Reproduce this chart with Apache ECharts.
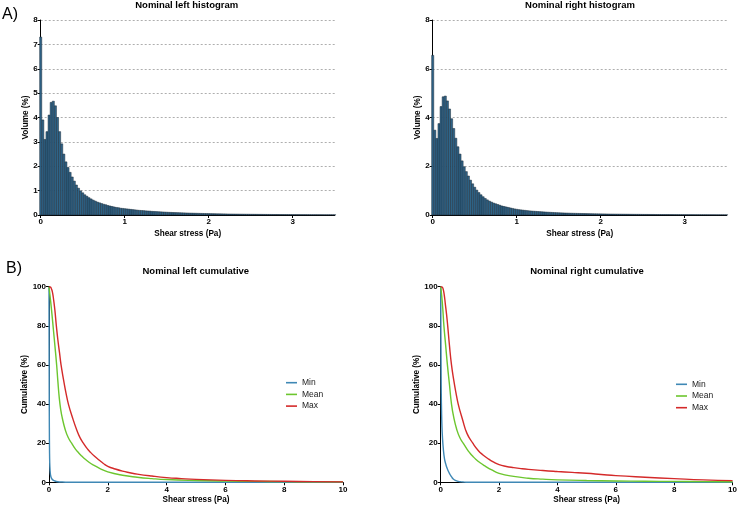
<!DOCTYPE html>
<html><head><meta charset="utf-8">
<script src="https://cdn.jsdelivr.net/npm/echarts@6/dist/echarts.min.js"></script>
<style>html,body{margin:0;padding:0;background:#fff}#c{width:740px;height:507px}</style>
</head><body><div id="c"></div>
<script>
// ---------- DATA ----------
const binWidth = 0.025; // histogram bin width (Pa), bins centred at 0, 0.025, 0.05 ...
const leftHist = [
  7.30, 3.90, 3.10, 3.42, 4.10, 4.62, 4.67, 4.48, 4.00, 3.42,
  2.92, 2.50, 2.18, 1.95, 1.75, 1.56, 1.39, 1.23, 1.10, 0.99,
  0.91, 0.83, 0.77, 0.71, 0.66, 0.61, 0.57, 0.53, 0.50, 0.47,
  0.44, 0.42, 0.39, 0.37, 0.35, 0.33, 0.31, 0.30, 0.28, 0.27, 0.26,
  0.25, 0.24, 0.23, 0.22, 0.21, 0.20, 0.19, 0.185, 0.18, 0.17,
  0.165, 0.16, 0.15, 0.145, 0.14, 0.135, 0.13, 0.125, 0.12, 0.115,
  0.11, 0.107, 0.103, 0.10, 0.097, 0.094, 0.09, 0.087, 0.084, 0.081,
  0.078, 0.076, 0.073, 0.071, 0.068, 0.066, 0.064, 0.062, 0.06, 0.058,
  0.056, 0.054, 0.052, 0.05, 0.049, 0.047, 0.045, 0.044, 0.042, 0.041,
  0.04, 0.038, 0.037, 0.036, 0.035, 0.034, 0.033, 0.032, 0.031, 0.03,
  0.029, 0.028, 0.027, 0.026, 0.026, 0.025, 0.024, 0.023, 0.023, 0.022,
  0.021, 0.021, 0.02, 0.019, 0.019, 0.018, 0.018, 0.017, 0.017, 0.016,
  0.016, 0.015, 0.015, 0.014, 0.014, 0.014, 0.013, 0.013, 0.012, 0.012,
  0.012, 0.011, 0.011, 0.011, 0.01, 0.01, 0.01, 0.01, 0.009, 0.009
];
const rightHist = [
  6.55, 3.48, 3.14, 3.75, 4.45, 4.85, 4.88, 4.68, 4.35, 3.95,
  3.55, 3.15, 2.80, 2.50, 2.22, 1.98, 1.78, 1.60, 1.43, 1.28,
  1.14, 1.02, 0.92, 0.83, 0.75, 0.68, 0.62, 0.57, 0.53, 0.49,
  0.46, 0.43, 0.40, 0.37, 0.35, 0.33, 0.31, 0.29, 0.27, 0.25, 0.235,
  0.22, 0.21, 0.20, 0.19, 0.18, 0.17, 0.163, 0.156, 0.15, 0.144,
  0.138, 0.132, 0.126, 0.12, 0.115, 0.11, 0.105, 0.10, 0.096, 0.092,
  0.088, 0.085, 0.082, 0.079, 0.076, 0.073, 0.07, 0.068, 0.066, 0.064,
  0.062, 0.06, 0.058, 0.056, 0.054, 0.052, 0.05, 0.049, 0.047, 0.046,
  0.044, 0.043, 0.042, 0.04, 0.039, 0.038, 0.037, 0.036, 0.035, 0.034,
  0.033, 0.032, 0.031, 0.03, 0.029, 0.028, 0.027, 0.027, 0.026, 0.025,
  0.024, 0.024, 0.023, 0.022, 0.022, 0.021, 0.02, 0.02, 0.019, 0.019,
  0.018, 0.018, 0.017, 0.017, 0.016, 0.016, 0.015, 0.015, 0.015, 0.014,
  0.014, 0.013, 0.013, 0.013, 0.012, 0.012, 0.012, 0.011, 0.011, 0.011,
  0.01, 0.01, 0.01, 0.01, 0.009, 0.009, 0.009, 0.009, 0.008, 0.008
];
const histXTicks = [0, 1, 2, 3];

// Cumulative curves: x = shear stress (Pa), y = cumulative (%)
const leftMinX  = [0, 0.004, 0.008, 0.012, 0.018, 0.025, 0.035, 0.05, 0.07, 0.1, 0.14, 0.2, 0.3, 0.45, 0.6, 0.8, 1, 2, 4, 6, 8, 10];
const leftMinY  = [100, 70, 45, 28, 16, 10, 6.5, 4, 2.6, 1.7, 1.1, 0.65, 0.3, 0.12, 0.05, 0.02, 0, 0, 0, 0, 0, 0];
const leftMeanX = [0, 0.03, 0.06, 0.1, 0.15, 0.2, 0.26, 0.3, 0.35, 0.4, 0.45, 0.55, 0.65, 0.77, 0.9, 1, 1.1, 1.2, 1.35, 1.5, 1.75, 2, 2.5, 3, 3.5, 4, 5, 6, 7, 8, 9, 10];
const leftMeanY = [100, 96, 92, 86, 78, 70, 60, 52, 43, 37, 33, 27, 23, 20, 17, 15.2, 13.6, 12.2, 10.4, 8.9, 6.9, 5.3, 3.6, 2.6, 1.9, 1.4, 0.9, 0.6, 0.45, 0.35, 0.28, 0.2];
const leftMaxX  = [0, 0.05, 0.08, 0.12, 0.16, 0.2, 0.25, 0.3, 0.36, 0.41, 0.5, 0.58, 0.66, 0.8, 0.95, 1.05, 1.17, 1.3, 1.4, 1.55, 1.7, 1.85, 2, 2.25, 2.5, 2.75, 3, 3.5, 4, 4.5, 5, 6, 7, 8, 9, 10];
const leftMaxY  = [100, 99.8, 99, 97, 93, 88, 80, 73, 66, 60, 52, 45.5, 40, 33, 26.5, 23, 20, 17.2, 15.5, 13.3, 11.4, 9.6, 8.2, 6.8, 5.7, 4.9, 4.2, 3.2, 2.4, 1.9, 1.5, 1.0, 0.7, 0.5, 0.35, 0.2];

const rightMinX  = [0, 0.005, 0.01, 0.015, 0.02, 0.03, 0.04, 0.06, 0.09, 0.13, 0.17, 0.2, 0.25, 0.32, 0.38, 0.43, 0.5, 0.6, 0.7, 0.8, 1, 2, 4, 6, 8, 10];
const rightMinY  = [100, 82, 66, 54, 45, 36, 30, 23, 17, 12, 9.5, 8, 6, 4, 2.6, 1.7, 1, 0.45, 0.2, 0.1, 0, 0, 0, 0, 0, 0];
const rightMeanX = [0, 0.03, 0.07, 0.11, 0.17, 0.23, 0.3, 0.37, 0.45, 0.55, 0.65, 0.77, 0.9, 1, 1.1, 1.2, 1.35, 1.5, 1.75, 2, 2.5, 3, 3.5, 4, 5, 6, 7, 8, 9, 10];
const rightMeanY = [100, 96, 89, 80, 70, 60, 50, 40, 33, 27, 23, 20, 17, 15, 13.3, 11.8, 10, 8.5, 6.3, 4.6, 3.0, 2.1, 1.6, 1.25, 0.9, 0.7, 0.55, 0.45, 0.37, 0.3];
const rightMaxX  = [0, 0.05, 0.08, 0.12, 0.16, 0.2, 0.24, 0.3, 0.37, 0.45, 0.52, 0.6, 0.75, 0.9, 1.1, 1.3, 1.45, 1.6, 1.8, 2, 2.25, 2.5, 2.75, 3, 3.5, 4, 4.5, 5, 5.5, 6, 7, 8, 9, 10];
const rightMaxY  = [100, 99.8, 99, 96, 91, 86, 80, 70, 60, 52, 46, 40, 32, 25, 20, 16, 14, 12.3, 10.4, 9.0, 8.1, 7.5, 7.0, 6.6, 6.0, 5.5, 5.05, 4.6, 4.0, 3.4, 2.6, 1.9, 1.25, 0.85];

const seriesNames = ['Min', 'Mean', 'Max'];
const seriesColors = ['#3f88b5', '#6cc62e', '#d42a2a'];

// ---------- CHART ----------
const FONT = '"Liberation Sans", Arial, sans-serif';
const chart = echarts.init(document.getElementById('c'), null, {renderer: 'canvas'});

function zip(xs, ys) { return xs.map((x, i) => [x, ys[i]]); }
function histData(vals) { return vals.map((v, i) => [i * binWidth, v]); }

function renderHist(params, api) {
  const x = api.value(0), y = api.value(1);
  const p0 = api.coord([x - binWidth / 2, y]);
  const p1 = api.coord([x + binWidth / 2, 0]);
  return {
    type: 'rect',
    shape: {x: p0[0], y: p0[1], width: p1[0] - p0[0], height: p1[1] - p0[1]},
    style: {fill: '#2f6488', stroke: '#1a2b38', lineWidth: 0.5}
  };
}

const axisLineStyle = {show: true, lineStyle: {color: '#000', width: 1}};
const tickStyle = {show: true, length: 3, lineStyle: {color: '#000', width: 1}};
const labelStyle = {color: '#000', fontSize: 8, fontWeight: 'bold', fontFamily: FONT, margin: 3};
const nameStyle = {color: '#000', fontSize: 8.2, fontWeight: 'bold', fontFamily: FONT};

function histX(gi) {
  return {
    type: 'value', gridIndex: gi, min: 0, max: 3.5,
    axisLine: axisLineStyle,
    axisTick: Object.assign({customValues: histXTicks}, tickStyle),
    axisLabel: Object.assign({customValues: histXTicks}, labelStyle),
    splitLine: {show: false},
    name: 'Shear stress (Pa)', nameLocation: 'middle', nameGap: 14.5, nameTextStyle: nameStyle
  };
}
function histY(gi, interval, gap) {
  return {
    type: 'value', gridIndex: gi, min: 0, max: 8, interval: interval,
    axisLine: axisLineStyle, axisTick: tickStyle, axisLabel: labelStyle,
    splitLine: {show: true, lineStyle: {color: '#9a9a9a', width: 0.8, type: [2, 2]}},
    name: 'Volume (%)', nameLocation: 'middle', nameGap: gap, nameTextStyle: nameStyle
  };
}
function cumX(gi) {
  return {
    type: 'value', gridIndex: gi, min: 0, max: 10, interval: 2,
    axisLine: axisLineStyle, axisTick: tickStyle, axisLabel: labelStyle,
    splitLine: {show: false},
    name: 'Shear stress (Pa)', nameLocation: 'middle', nameGap: 13.9, nameTextStyle: nameStyle
  };
}
function cumY(gi, gap) {
  return {
    type: 'value', gridIndex: gi, min: 0, max: 100, interval: 20,
    axisLine: axisLineStyle, axisTick: tickStyle, axisLabel: labelStyle,
    splitLine: {show: false},
    name: 'Cumulative (%)', nameLocation: 'middle', nameGap: gap, nameTextStyle: nameStyle
  };
}
function cumSeries(gi, xsets, ysets) {
  return seriesNames.map((n, k) => ({
    type: 'line', name: n, xAxisIndex: gi, yAxisIndex: gi,
    data: zip(xsets[k], ysets[k]),
    showSymbol: false, smooth: 0.5,
    lineStyle: {color: seriesColors[k], width: 1.4},
    itemStyle: {color: seriesColors[k]},
    z: 2 + k
  }));
}
function legend(left, top) {
  return {
    left: left, top: top, orient: 'vertical', data: seriesNames,
    icon: 'rect', itemWidth: 11, itemHeight: 1.6, itemGap: 2.7,
    textStyle: {color: '#222', fontSize: 8.5, fontFamily: FONT, lineHeight: 9, padding: [0, 0, 0, 0]},
    selectedMode: false
  };
}
function txt(x, y, s, size, weight) {
  return {type: 'text', x: x, y: y, style: {text: s, fontSize: size, fontWeight: weight, fontFamily: FONT, fill: '#000', align: 'center', verticalAlign: 'middle'}};
}

chart.setOption({
  animation: false,
  backgroundColor: '#fff',
  grid: [
    {left: 40.7, top: 20, width: 294, height: 195},
    {left: 432.7, top: 20, width: 294, height: 195},
    {left: 49, top: 286.7, width: 294, height: 195.6},
    {left: 440.7, top: 286.7, width: 293.6, height: 195.6}
  ],
  xAxis: [histX(0), histX(1), cumX(2), cumX(3)],
  yAxis: [histY(0, 1, 11.2), histY(1, 2, 10.2), cumY(2, 18.8), cumY(3, 18.5)],
  legend: [legend(281, 373.2), legend(671, 374.8)],
  graphic: [
    txt(10, 15, 'A)', 16, 'normal'),
    txt(14, 269, 'B)', 16, 'normal'),
    txt(186.7, 5.5, 'Nominal left histogram', 9.5, 'bold'),
    txt(580, 5.5, 'Nominal right histogram', 9.5, 'bold'),
    txt(195.8, 271.7, 'Nominal left cumulative', 9.5, 'bold'),
    txt(587, 271.7, 'Nominal right cumulative', 9.5, 'bold')
  ],
  series: [
    {type: 'custom', xAxisIndex: 0, yAxisIndex: 0, data: histData(leftHist), renderItem: renderHist, clip: false, z: 1},
    {type: 'custom', xAxisIndex: 1, yAxisIndex: 1, data: histData(rightHist), renderItem: renderHist, clip: false, z: 1}
  ].concat(
    cumSeries(2, [leftMinX, leftMeanX, leftMaxX], [leftMinY, leftMeanY, leftMaxY]),
    cumSeries(3, [rightMinX, rightMeanX, rightMaxX], [rightMinY, rightMeanY, rightMaxY])
  )
});
</script>
</body></html>
